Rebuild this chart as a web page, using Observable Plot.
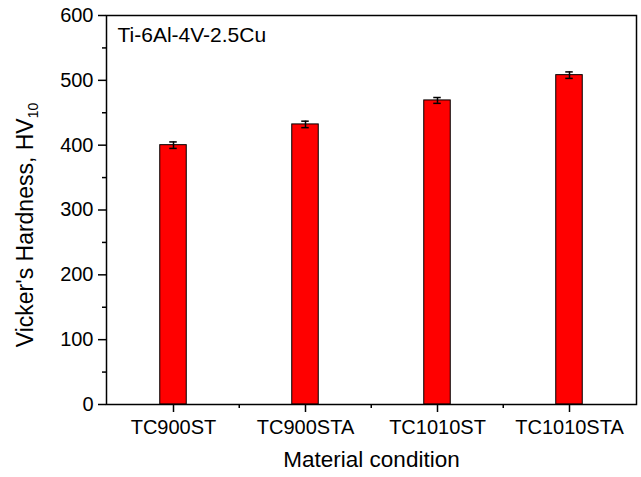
<!DOCTYPE html>
<html>
<head>
<meta charset="utf-8">
<script src="https://cdn.jsdelivr.net/npm/d3@7"></script>
<script src="https://cdn.jsdelivr.net/npm/@observablehq/plot@0.6"></script>
<style>
  html, body { margin: 0; padding: 0; background: #fff; }
  svg { font-family: "Liberation Sans", Arial, sans-serif; }
</style>
</head>
<body>
<div id="chart"></div>
<script>
const conditions = ["TC900ST", "TC900STA", "TC1010ST", "TC1010STA"];
const hardness = [400, 432, 469, 508];
const errors = [5, 5, 4.5, 5];
const yTicks = [0, 100, 200, 300, 400, 500, 600];
const yMinorTicks = [50, 150, 250, 350, 450, 550];
const annotation = "Ti-6Al-4V-2.5Cu";
const xTitle = "Material condition";
const yTitle = "Vicker's Hardness, HV";
const yTitleSub = "10";

const data = conditions.map((c, i) => ({c, v: hardness[i], e: errors[i]}));

const W = 641, H = 477;
const mL = 106, mR = 5, mT = 15, mB = 73;
const band = (W - mL - mR) / conditions.length;
const frameH = H - mT - mB;
const barW = 27, capW = 8;

const chart = Plot.plot({
  width: W, height: H,
  marginLeft: mL, marginRight: mR, marginTop: mT, marginBottom: mB,
  style: {fontFamily: "Liberation Sans, Arial, sans-serif", background: "#fff", color: "#000"},
  x: {domain: conditions, padding: 0},
  y: {domain: [0, 600]},
  marks: [
    Plot.barY(data, {x: "c", y: "v", fill: "#ff0000", stroke: "#000", strokeWidth: 1,
      insetLeft: (band - barW) / 2, insetRight: (band - barW) / 2}),
    Plot.ruleX(data, {x: "c", y1: d => d.v - d.e, y2: d => d.v + d.e, stroke: "#000", strokeWidth: 1.5}),
    Plot.tickY(data, {x: "c", y: d => d.v + d.e, stroke: "#000", strokeWidth: 1.5,
      insetLeft: (band - capW) / 2, insetRight: (band - capW) / 2}),
    Plot.tickY(data, {x: "c", y: d => d.v - d.e, stroke: "#000", strokeWidth: 1.5,
      insetLeft: (band - capW) / 2, insetRight: (band - capW) / 2}),
    Plot.axisY(yTicks, {tickSize: 8, tickPadding: 5, fontSize: 20, strokeWidth: 1.5, label: null}),
    Plot.axisY(yMinorTicks, {tickSize: 4, text: null, strokeWidth: 1.5, label: null}),
    Plot.axisX({tickSize: 8, tickPadding: 7, fontSize: 20, strokeWidth: 1.5, label: null}),
    Plot.ruleX(conditions.slice(1), {x: d => d, dx: -band / 2, stroke: "#000", strokeWidth: 1.5,
      insetTop: frameH, insetBottom: -4}),
    Plot.frame({stroke: "#000", strokeWidth: 1.5}),
    Plot.text([annotation], {frameAnchor: "top-left", dx: 11, dy: 12, fontSize: 21, textAnchor: "start", lineAnchor: "top"}),
    Plot.text([xTitle], {frameAnchor: "bottom", dy: 62, fontSize: 22.5})
  ]
});

document.getElementById("chart").appendChild(chart);

const svg = d3.select(chart);
const t = svg.append("text")
  .attr("transform", "translate(33,225) rotate(-90)")
  .attr("text-anchor", "middle")
  .attr("font-size", 23)
  .attr("fill", "#000");
t.append("tspan").text(yTitle);
t.append("tspan").attr("font-size", 14).attr("dy", 5).text(yTitleSub);
</script>
</body>
</html>
